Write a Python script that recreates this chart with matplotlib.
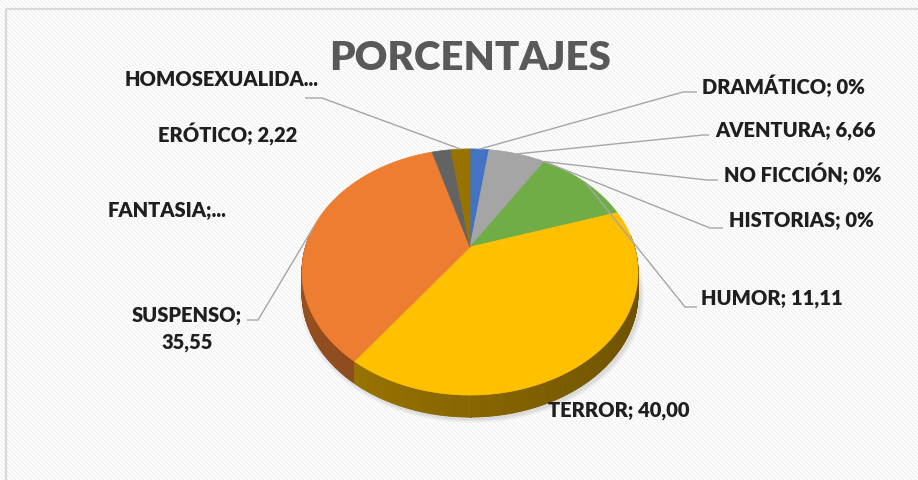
import numpy as np
import matplotlib.pyplot as plt
from matplotlib.collections import PolyCollection, LineCollection
from matplotlib.patches import Polygon, Rectangle
import matplotlib.colors as mcolors

# Data (clockwise from 12 o'clock, as in the Excel chart)
categories = ['DRAMÁTICO', 'AVENTURA', 'NO FICCIÓN', 'HISTORIAS', 'HUMOR',
              'TERROR', 'SUSPENSO', 'FANTASIA', 'ERÓTICO', 'HOMOSEXUALIDAD']
values = [2.22, 6.66, 0, 0, 11.11, 40.00, 35.55, 0, 2.22, 2.22]
colors = ['#4472C4', '#A5A5A5', '#5B9BD5', '#264478', '#70AD47',
          '#FFC000', '#ED7D31', '#9E480E', '#636363', '#997300']
label_texts = ['DRAMÁTICO; 0%', 'AVENTURA; 6,66', 'NO FICCIÓN; 0%', 'HISTORIAS; 0%',
               'HUMOR; 11,11', 'TERROR; 40,00', 'SUSPENSO;\n35,55', 'FANTASIA;...',
               'ERÓTICO; 2,22', 'HOMOSEXUALIDA...']

plt.rcParams['font.family'] = ['Lato', 'DejaVu Sans']

# pie geometry (pixel space, y down)
cx, cy = 470, 247
A, B, k = 164.5, 118.0, 0.203
depth = 22


def proj(ang):
    u = np.sin(ang)
    v = -np.cos(ang)
    den = 1 - k * v
    return cx + A * u / den, cy + B * v / den


fig = plt.figure(figsize=(9.18, 4.8), dpi=100)
ax = fig.add_axes([0, 0, 1, 1])
ax.set_xlim(0, 918)
ax.set_ylim(480, 0)
ax.axis('off')

# striped background + frame
stripes = [[(c, 0), (c + 480, 480)] for c in range(-480, 918, 4)]
ax.add_collection(LineCollection(stripes, colors='#F0F0F0', linewidths=0.9, zorder=0))
ax.add_patch(Rectangle((6, 9), 940, 500, fill=False, edgecolor='#D9D9D9', lw=1.6, zorder=1))

# angles
total = sum(values)
bounds = np.concatenate([[0], np.cumsum(values)]) / total * 2 * np.pi

# soft shadow under the pie
full = np.linspace(0, 2 * np.pi, 200)
sx, sy = proj(full)
for s in [1.025, 1.015, 1.007]:
    pts = np.column_stack([cx + (sx - cx) * s + 2, cy + (sy - cy) * s + depth + 2])
    ax.add_patch(Polygon(pts, closed=True, facecolor='#000000', alpha=0.04,
                         edgecolor='none', zorder=2))

# side walls
quads, qcols, qv = [], [], []
for val, col, a0, a1 in zip(values, colors, bounds[:-1], bounds[1:]):
    if val == 0:
        continue
    rgb = np.array(mcolors.to_rgb(col))
    angs = np.linspace(a0, a1, max(int((a1 - a0) / 0.01), 2))
    for t0, t1 in zip(angs[:-1], angs[1:]):
        if -np.cos(0.5 * (t0 + t1)) < -0.1:
            continue
        x0, y0 = proj(t0)
        x1, y1 = proj(t1)
        quads.append([(x0, y0), (x1, y1), (x1, y1 + depth), (x0, y0 + depth)])
        u = np.sin(0.5 * (t0 + t1))
        f = 0.53 - 0.11 * u
        qcols.append(tuple(np.clip(rgb * f, 0, 1)))
        qv.append(-np.cos(0.5 * (t0 + t1)))
order = np.argsort(qv)
ax.add_collection(PolyCollection([quads[i] for i in order],
                                 facecolors=[qcols[i] for i in order],
                                 edgecolors=[qcols[i] for i in order],
                                 linewidths=0.6, zorder=3))

# top faces
for val, col, a0, a1 in zip(values, colors, bounds[:-1], bounds[1:]):
    if val == 0:
        continue
    angs = np.linspace(a0, a1, max(int((a1 - a0) / 0.01), 2))
    xs, ys = proj(angs)
    pts = np.vstack([[cx, cy], np.column_stack([xs, ys])])
    ax.add_patch(Polygon(pts, closed=True, facecolor=col, edgecolor=col, lw=0.5, zorder=4))

# leader lines: (elbow point, end point) for labels that have one
mids = 0.5 * (bounds[:-1] + bounds[1:])
leaders = {
    'DRAMÁTICO': [(683, 92), (697, 92)],
    'AVENTURA': [(703, 135), (709, 135)],
    'NO FICCIÓN': [(707, 180), (718, 180)],
    'HISTORIAS': [(710, 228), (723, 228)],
    'HUMOR': [(685, 307), (697, 307)],
    'SUSPENSO': [(258, 320), (247, 320)],
    'HOMOSEXUALIDAD': [(322, 98), (305, 98)],
}
for cat, m in zip(categories, mids):
    if cat in leaders:
        px, py = proj(m)
        pts = [(px, py)] + leaders[cat]
        ax.plot([p[0] for p in pts], [p[1] for p in pts], color='#A6A6A6',
                lw=1.0, zorder=5, solid_capstyle='butt')

# data labels
label_pos = {
    'DRAMÁTICO': (702, 86, 'left'),
    'AVENTURA': (715, 130, 'left'),
    'NO FICCIÓN': (724, 174, 'left'),
    'HISTORIAS': (729, 221, 'left'),
    'HUMOR': (701, 298, 'left'),
    'TERROR': (548, 410, 'left'),
    'SUSPENSO': (187, 329, 'center'),
    'FANTASIA': (108, 210, 'left'),
    'ERÓTICO': (158, 135, 'left'),
    'HOMOSEXUALIDAD': (125, 80, 'left'),
}
for cat, txt in zip(categories, label_texts):
    x, y, ha = label_pos[cat]
    ax.text(x, y, txt, ha=ha, va='center', fontsize=14.5, fontweight='heavy',
            color='#1F1F1F', linespacing=1.45, zorder=6)

ax.text(470, 59, 'PORCENTAJES', ha='center', va='center', fontsize=29,
        fontweight='heavy', color='#595959', zorder=6)

fig.savefig('out.png', dpi=100)
